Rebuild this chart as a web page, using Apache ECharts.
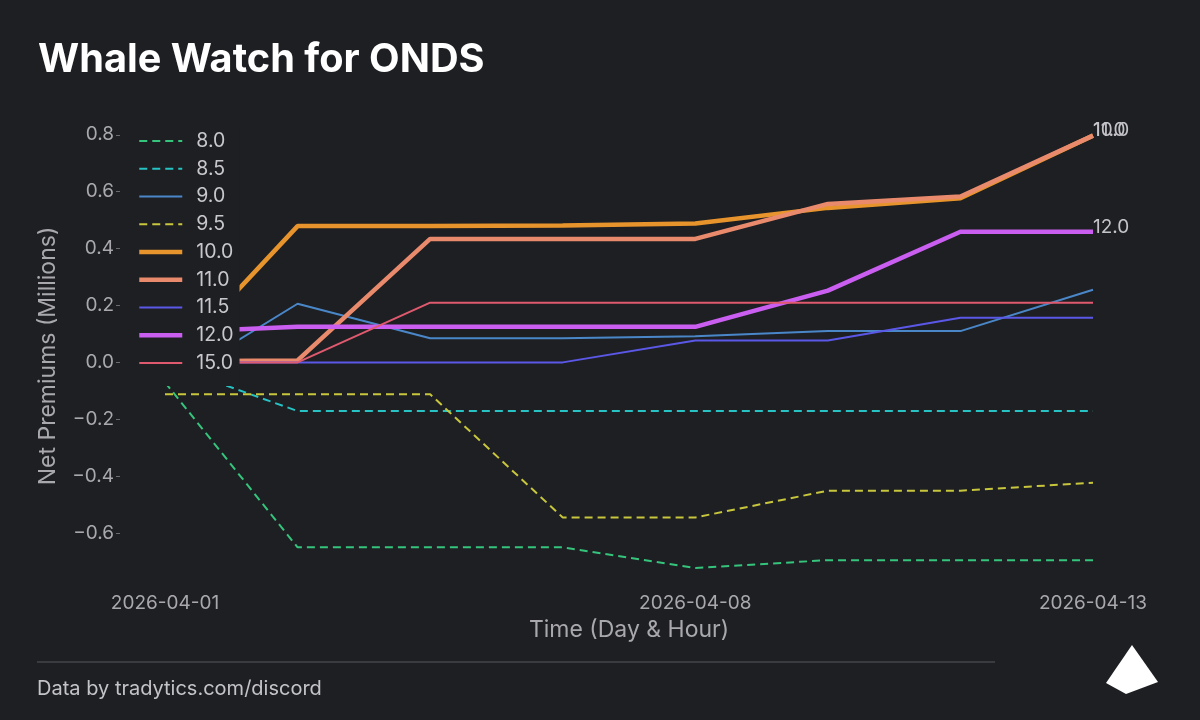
<!DOCTYPE html>
<html>
<head>
<meta charset="utf-8">
<title>Whale Watch for ONDS</title>
<script src="https://cdn.jsdelivr.net/npm/echarts@6/dist/echarts.min.js"></script>
<style>
  html, body { margin: 0; padding: 0; background: #1e1f23; }
  #chart { width: 1200px; height: 720px; }
</style>
</head>
<body>
<div id="chart"></div>
<script>
// trading days on the x axis, only some of them get a label
var dates = ['2026-04-01', '2026-04-02', '2026-04-06', '2026-04-07', '2026-04-08', '2026-04-09', '2026-04-10', '2026-04-13'];
var labelIdx = [0, 4, 7];
var yTicks = [-0.6, -0.4, -0.2, 0.0, 0.2, 0.4, 0.6, 0.8];

// net premiums (millions) per strike
var s8_0 = [-0.07, -0.65, -0.65, -0.65, -0.723, -0.695, -0.695, -0.695];
var s8_5 = [-0.005, -0.171, -0.171, -0.171, -0.171, -0.171, -0.171, -0.171];
var s9_0 = [-0.08, 0.206, 0.085, 0.085, 0.092, 0.11, 0.11, 0.255];
var s9_5 = [-0.112, -0.112, -0.112, -0.545, -0.545, -0.451, -0.451, -0.423];
var s10_0 = [-0.02, 0.479, 0.479, 0.481, 0.488, 0.543, 0.577, 0.797];
var s11_0 = [0.004, 0.007, 0.434, 0.434, 0.434, 0.557, 0.583, 0.797];
var s11_5 = [0, 0, 0, 0, 0.077, 0.077, 0.157, 0.157];
var s12_0 = [0.105, 0.125, 0.125, 0.125, 0.125, 0.252, 0.459, 0.459];
var s15_0 = [0, 0, 0.21, 0.21, 0.21, 0.21, 0.21, 0.21];

var bg = '#1e1f23';
var txt = '#a9a9ad';
var font = 'Inter';
var legendItems = [];

function line(name, data, color, width, dashed, withLabel) {
  var type = dashed ? [8, 5] : 'solid';
  // legend clamps line width to 2 unless told otherwise
  legendItems.push({ name: name, lineStyle: { width: width, type: type } });
  return {
    name: name,
    type: 'line',
    data: data,
    symbol: 'none',
    lineStyle: { color: color, width: width, type: type },
    itemStyle: { color: color },
    endLabel: {
      show: !!withLabel,
      formatter: '{a}',
      color: '#c4c4c8',
      fontFamily: font,
      fontSize: 19,
      distance: 0,
      offset: [0, -5]
    }
  };
}

var series = [
  line('8.0', s8_0, '#35c47c', 2, true),
  line('8.5', s8_5, '#26c2c4', 2, true),
  line('9.0', s9_0, '#4a87c9', 2, false),
  line('9.5', s9_5, '#c7c63c', 2, true),
  line('10.0', s10_0, '#e8942c', 4.5, false, true),
  line('11.0', s11_0, '#e98a6c', 4.5, false, true),
  line('11.5', s11_5, '#5b58e8', 2, false),
  line('12.0', s12_0, '#c95ef0', 4.5, false, true),
  line('15.0', s15_0, '#df5a6e', 2, false)
];

var chartDom = document.getElementById('chart');
var myChart = echarts.init(chartDom);
var option = {
  backgroundColor: bg,
  animation: false,
  title: {
    text: 'Whale Watch for ONDS',
    left: 33,
    top: 35,
    textStyle: { color: '#ffffff', fontFamily: font, fontSize: 39.7, fontWeight: 'bold' }
  },
  legend: {
    orient: 'vertical',
    left: 133,
    top: 126,
    padding: [5, 6, 13, 4],
    itemWidth: 43,
    itemHeight: 14,
    itemGap: 7.75,
    backgroundColor: bg,
    itemStyle: { opacity: 0 },
    textStyle: { color: '#c8c8cc', fontFamily: font, fontSize: 19.5, padding: [0, 0, 0, 9] },
    data: legendItems
  },
  grid: { left: 165, right: 107, top: 112, bottom: 130 },
  xAxis: {
    type: 'category',
    data: dates,
    boundaryGap: false,
    axisLine: { show: false },
    axisTick: { show: false },
    splitLine: { show: false },
    axisLabel: {
      interval: function (i) { return labelIdx.indexOf(i) >= 0; },
      color: txt,
      fontFamily: font,
      fontSize: 19,
      margin: 4
    },
    name: 'Time (Day & Hour)',
    nameLocation: 'middle',
    nameGap: 29,
    nameTextStyle: { color: txt, fontFamily: font, fontSize: 23 }
  },
  yAxis: {
    type: 'value',
    min: -0.8,
    max: 0.88,
    offset: 45,
    axisLine: { show: false },
    splitLine: { show: false },
    axisTick: { show: true, length: 4, lineStyle: { color: '#6a6a70' }, customValues: yTicks },
    axisLabel: {
      customValues: yTicks,
      color: txt,
      fontFamily: font,
      fontSize: 19,
      margin: 6,
      formatter: function (v) { return v.toFixed(1).replace('-', '\u2212'); }
    }
  },
  graphic: [
    {
      type: 'text',
      x: 48,
      y: 356,
      rotation: Math.PI / 2,
      style: { text: 'Net Premiums (Millions)', fill: txt, font: '23px Inter', align: 'center', verticalAlign: 'middle' }
    },
    {
      type: 'line',
      shape: { x1: 37, y1: 662, x2: 995, y2: 662 },
      style: { stroke: '#45464b', lineWidth: 1.5 }
    },
    {
      type: 'text',
      x: 37,
      y: 689,
      style: { text: 'Data by tradytics.com/discord', fill: '#c4c4c8', font: '20px Inter', verticalAlign: 'middle' }
    },
    {
      type: 'polygon',
      shape: { points: [[1132, 645], [1158, 682], [1126, 694], [1106, 683]] },
      style: { fill: '#ffffff' }
    }
  ],
  series: series
};
myChart.setOption(option);
</script>
</body>
</html>
